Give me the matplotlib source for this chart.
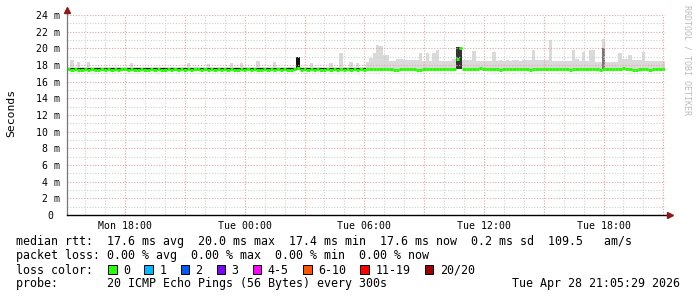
import numpy as np
import matplotlib
matplotlib.use('Agg')
import matplotlib.pyplot as plt
from matplotlib.patches import Rectangle

# Time axis: hours since Mon 00:00, 10 minute steps
t_start = 15 + 5 / 60
step_h = 10 / 60

# Top of the smoke (max rtt per step, ms)
smoke_top = [
    17.7, 18.6, 17.7, 18.4, 17.7, 17.7, 18.4, 17.7, 17.7, 17.7, 17.7, 17.7,
    17.7, 17.7, 17.7, 17.7, 17.7, 17.7, 17.7, 18.2, 17.7, 17.7, 17.7, 17.7,
    17.7, 17.7, 17.7, 17.7, 17.7, 17.7, 17.7, 17.7, 17.7, 17.7, 17.7, 17.7,
    18.2, 17.7, 17.7, 17.7, 17.7, 17.7, 18.1, 17.7, 17.7, 17.7, 17.7, 17.7,
    17.7, 18.2, 17.7, 17.7, 18.2, 17.7, 17.7, 17.7, 17.7, 18.5, 17.7, 17.7,
    17.7, 17.7, 18.3, 17.7, 17.7, 17.7, 17.7, 17.7, 17.7, 18.9, 17.7, 17.7,
    17.7, 18.2, 17.7, 17.7, 17.7, 17.7, 17.7, 18.2, 17.7, 17.7, 19.4, 17.7,
    17.7, 18.3, 17.7, 18.2, 17.7, 17.7, 18.4, 18.8, 19.4, 20.4, 20.3, 19.2,
    19.2, 18.5, 18.5, 18.7, 18.7, 18.6, 18.6, 18.6, 18.6, 18.6, 19.4, 18.5,
    19.4, 18.5, 19.4, 19.8, 18.5, 18.5, 18.5, 18.5, 18.7, 20.2, 20.2, 18.6,
    18.6, 18.6, 19.7, 18.5, 18.5, 18.5, 18.5, 18.5, 19.5, 18.5, 18.6, 18.5,
    18.6, 18.5, 18.6, 18.6, 18.5, 18.6, 18.6, 18.6, 19.8, 18.6, 18.6, 18.6,
    18.6, 21.0, 18.5, 18.5, 18.5, 18.5, 18.5, 18.5, 19.8, 18.7, 18.5, 19.5,
    18.5, 19.8, 19.8, 18.4, 18.4, 21.1, 18.4, 18.4, 18.4, 18.4, 19.4, 18.7,
    18.7, 19.2, 18.6, 18.6, 18.6, 19.6, 18.5, 18.5, 18.5, 18.5, 18.5, 18.5,
]

# Median rtt per step (ms)
median_rtt = [
    17.55, 17.4, 17.55, 17.4, 17.4, 17.55, 17.4, 17.55, 17.4, 17.4, 17.55, 17.4,
    17.55, 17.4, 17.55, 17.4, 17.55, 17.55, 17.4, 17.55, 17.4, 17.4, 17.55, 17.4,
    17.4, 17.55, 17.4, 17.55, 17.4, 17.4, 17.55, 17.4, 17.55, 17.4, 17.55, 17.4,
    17.55, 17.4, 17.55, 17.55, 17.4, 17.55, 17.4, 17.55, 17.4, 17.55, 17.4, 17.55,
    17.4, 17.55, 17.4, 17.4, 17.55, 17.4, 17.55, 17.4, 17.55, 17.4, 17.4, 17.55,
    17.4, 17.55, 17.4, 17.55, 17.4, 17.55, 17.4, 17.4, 17.55, 17.6, 17.4, 17.55,
    17.4, 17.55, 17.4, 17.55, 17.4, 17.4, 17.55, 17.4, 17.55, 17.4, 17.55, 17.4,
    17.55, 17.4, 17.55, 17.4, 17.55, 17.4, 17.5, 17.5, 17.5, 17.5, 17.5, 17.5,
    17.5, 17.5, 17.4, 17.4, 17.5, 17.5, 17.5, 17.5, 17.5, 17.4, 17.4, 17.5,
    17.5, 17.5, 17.5, 17.5, 17.5, 17.5, 17.5, 17.5, 17.5, 18.7, 20.0, 17.5,
    17.5, 17.5, 17.5, 17.5, 17.6, 17.5, 17.5, 17.5, 17.5, 17.5, 17.4, 17.5,
    17.5, 17.5, 17.5, 17.5, 17.5, 17.5, 17.5, 17.4, 17.5, 17.5, 17.5, 17.5,
    17.5, 17.5, 17.5, 17.5, 17.5, 17.5, 17.5, 17.4, 17.5, 17.5, 17.5, 17.5,
    17.5, 17.5, 17.5, 17.5, 17.4, 17.5, 17.5, 17.5, 17.5, 17.5, 17.5, 17.6,
    17.5, 17.5, 17.4, 17.4, 17.5, 17.5, 17.5, 17.4, 17.5, 17.5, 17.5, 17.5,
]

# Dense smoke core in the quiet first part
core_low, core_high, core_steps = 17.45, 17.68, 90

# Dark smoke spikes (step index, bottom ms, top ms, shade)
dark_steps = [69, 117, 118, 161]
dark_bottoms = [17.5, 17.5, 17.5, 17.5]
dark_tops = [18.9, 20.2, 20.2, 20.0]
dark_colors = ['#111111', '#333333', '#333333', '#777777']

# Axis ticks
tick_hours = [18, 24, 30, 36, 42]
tick_labels = ['Mon 18:00', 'Tue 00:00', 'Tue 06:00', 'Tue 12:00', 'Tue 18:00']

# Legend / stats
stats_rtt = [17.6, 20.0, 17.4, 17.6]
stats_sd = 0.2
stats_ams = 109.5
stats_loss = [0.00, 0.00, 0.00, 0.00]
loss_labels = ['0', '1', '2', '3', '4-5', '6-10', '11-19', '20/20']
loss_colors = ['#26ff00', '#00b8ff', '#0059ff', '#7e00ff', '#ff00ff',
               '#ff5500', '#ff0000', '#a10000']
probe_text = '20 ICMP Echo Pings (56 Bytes) every 300s'
stamp_text = 'Tue Apr 28 21:05:29 2026'

W, H = 697, 297
mono = 'DejaVu Sans Mono'

fig = plt.figure(figsize=(W / 100, H / 100), dpi=100)
ax = fig.add_axes([67 / W, (H - 215) / H, 598 / W, 200 / H])

n = len(smoke_top)
edges = t_start + np.arange(n + 1) * step_h
t_end = edges[-1]

# Smoke
ax.stairs(smoke_top, edges, baseline=median_rtt, fill=True, color='#dadada',
          lw=0, zorder=1)
ax.fill_between([edges[0], edges[core_steps]], core_low, core_high,
                color='#111111', lw=0, zorder=1.5)
for i, b, top, c in zip(dark_steps, dark_bottoms, dark_tops, dark_colors):
    ax.bar(edges[i], top - b, bottom=b, width=step_h,
           align='edge', color=c, lw=0, zorder=2)

# Grid
for h in range(16, 46):
    major = h % 3 == 0
    ax.axvline(h, color='#e8a4a4' if major else '#d0d0d0', lw=0.8,
               ls=(0, (1, 1.5)), zorder=3)
for v in range(1, 25):
    major = v % 2 == 0
    ax.axhline(v, color='#e8a4a4' if major else '#d0d0d0', lw=0.8,
               ls=(0, (1, 1.5)), zorder=3)

# Median line
ax.hlines(median_rtt, edges[:-1], edges[1:], colors=loss_colors[0], lw=2.2,
          capstyle='butt', zorder=4)

ax.set_xlim(t_start, t_end)
ax.set_ylim(0, 24)
for s in ['top', 'right', 'bottom', 'left']:
    ax.spines[s].set_visible(False)

# Axes lines and arrows
ax.plot([0, 0], [0, 1.03], transform=ax.transAxes, color='#777777', lw=0.9,
        clip_on=False, zorder=5)
ax.plot([0, 1.008], [0, 0], transform=ax.transAxes, color='black', lw=1.0,
        clip_on=False, zorder=5)
ax.plot(0, 1.025, marker='^', ms=4, color='#8b1a1a', transform=ax.transAxes,
        clip_on=False, zorder=6)
ax.plot(1.008, 0, marker='>', ms=4, color='#8b1a1a', transform=ax.transAxes,
        clip_on=False, zorder=6)

ax.set_xticks(tick_hours)
ax.set_xticklabels(tick_labels, family=mono, fontsize=7.1)
yt = list(range(0, 25, 2))
ax.set_yticks(yt)
ax.set_yticklabels(['0 '] + [f'{v} m' for v in yt[1:]], family=mono, fontsize=7.1)
ax.tick_params(length=0, pad=4)
ax.tick_params(axis='y', pad=5)

fig.text(11 / W, 1 - 113 / H, 'Seconds', rotation=90, ha='center', va='center',
         family=mono, fontsize=8.2)
fig.text(687 / W, 1 - 60 / H, 'RRDTOOL / TOBI OETIKER', rotation=270,
         ha='center', va='center', family=mono, fontsize=6, color='#bbbbbb')

# Footer text
fs = 8.4
x0 = 16 / W
line1 = ('median rtt:  {:.1f} ms avg  {:.1f} ms max  {:.1f} ms min  '
         '{:.1f} ms now  {:.1f} ms sd  {:.1f}   am/s').format(*stats_rtt, stats_sd, stats_ams)
line2 = ('packet loss: {:.2f} % avg  {:.2f} % max  {:.2f} % min  '
         '{:.2f} % now').format(*stats_loss)
fig.text(x0, 1 - 241 / H, line1, family=mono, fontsize=fs, va='center')
fig.text(x0, 1 - 256 / H, line2, family=mono, fontsize=fs, va='center')
fig.text(x0, 1 - 270 / H, 'loss color:', family=mono, fontsize=fs, va='center')
fig.text(x0, 1 - 284 / H, 'probe:       ' + probe_text, family=mono, fontsize=fs,
         va='center')
fig.text(680 / W, 1 - 284 / H, stamp_text, family=mono, fontsize=fs, va='center',
         ha='right')

# Loss colour squares
cw = 7.05
sx = 108.3
for lab, c in zip(loss_labels, loss_colors):
    fig.patches.append(Rectangle((sx / W, 1 - 273.7 / H), 8.4 / W, 8.4 / H,
                                 transform=fig.transFigure, facecolor=c,
                                 edgecolor='black', lw=0.7))
    fig.text((sx + 15) / W, 1 - 270 / H, lab, family=mono, fontsize=fs, va='center')
    sx += 15 + (len(lab) + 2) * cw

fig.savefig('out.png', dpi=100)
